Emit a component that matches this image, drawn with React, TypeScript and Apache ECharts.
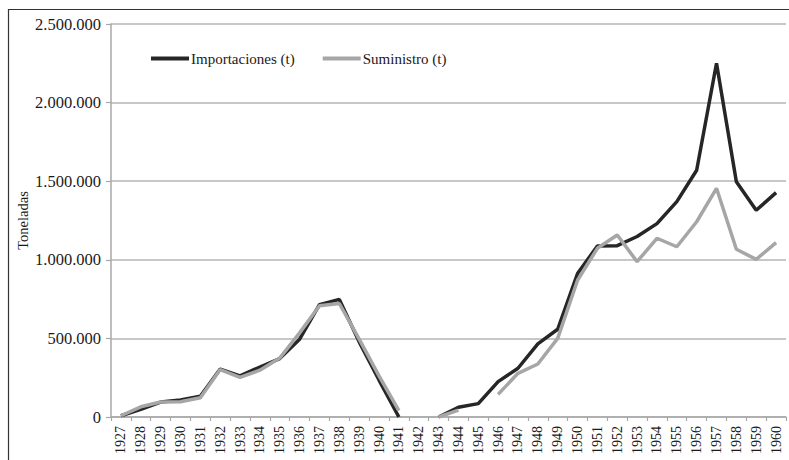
import React, { useEffect, useRef } from "react";
import * as echarts from "echarts";

const years = [
  "1927", "1928", "1929", "1930", "1931", "1932", "1933", "1934", "1935", "1936",
  "1937", "1938", "1939", "1940", "1941", "1942", "1943", "1944", "1945", "1946",
  "1947", "1948", "1949", "1950", "1951", "1952", "1953", "1954", "1955", "1956",
  "1957", "1958", "1959", "1960",
];

const importaciones: (number | null)[] = [
  8000, 48000, 95000, 108000, 132000, 305000, 262000, 318000, 372000, 495000,
  715000, 748000, 478000, 235000, 0, null, 0, 62000, 85000, 225000,
  310000, 465000, 558000, 912000, 1088000, 1090000, 1148000, 1230000, 1370000, 1570000,
  2250000, 1497000, 1315000, 1427000,
];

const suministro: (number | null)[] = [
  8000, 65000, 95000, 97000, 122000, 302000, 252000, 298000, 375000, 535000,
  708000, 722000, 495000, 262000, 40000, null, 0, 44000, null, 144000,
  278000, 337000, 500000, 870000, 1073000, 1158000, 988000, 1137000, 1083000, 1242000,
  1455000, 1067000, 1003000, 1109000,
];

const yTicks = [0, 500000, 1000000, 1500000, 2000000, 2500000];
const seriesNames = ["Importaciones (t)", "Suministro (t)"];

const fmt = (v: number) => String(v).replace(/\B(?=(\d{3})+(?!\d))/g, ".");

export default function App() {
  const ref = useRef<HTMLDivElement>(null);
  useEffect(() => {
    if (!ref.current) return;
    const chart = echarts.init(ref.current, undefined, { renderer: "svg" });
    const font = "Liberation Serif";
    chart.setOption({
      animation: false,
      backgroundColor: "#ffffff",
      textStyle: { fontFamily: font },
      graphic: [
        {
          type: "rect",
          shape: { x: 8.5, y: 9.5, width: 800, height: 500 },
          style: { fill: "none", stroke: "#333", lineWidth: 1.2 },
          silent: true,
        },
      ],
      legend: {
        left: 146,
        top: 46,
        icon: "rect",
        itemWidth: 38,
        itemHeight: 4,
        itemGap: 28,
        textStyle: { fontFamily: font, fontSize: 15, color: "#1a1a1a", padding: [0, 0, 0, -3] },
        data: seriesNames,
      },
      grid: { left: 111, right: 3, top: 24, bottom: 43, containLabel: false },
      xAxis: {
        type: "category",
        data: years,
        boundaryGap: true,
        axisLine: { lineStyle: { color: "#a8a8a8", width: 1.5 } },
        axisTick: { show: true, alignWithLabel: false, length: 4, lineStyle: { color: "#a8a8a8", width: 1.2 } },
        axisLabel: { rotate: 90, fontFamily: font, fontSize: 14, color: "#1a1a1a", margin: 9, interval: 0 },
      },
      yAxis: {
        type: "value",
        min: 0,
        max: 2500000,
        interval: 500000,
        name: "Toneladas",
        nameLocation: "middle",
        nameGap: 81,
        nameMoveOverlap: false,
        nameRotate: 90,
        nameTextStyle: { fontFamily: font, fontSize: 14.5, color: "#1a1a1a" },
        axisLine: { show: true, lineStyle: { color: "#a8a8a8", width: 1.5 } },
        axisTick: { show: true, length: 5, lineStyle: { color: "#a8a8a8", width: 1.2 } },
        splitLine: { show: true, lineStyle: { color: "#b4b4b4", width: 1.5 } },
        axisLabel: {
          fontFamily: font,
          fontSize: 16.5,
          color: "#1a1a1a",
          margin: 10,
          formatter: (v: number) => (yTicks.includes(v) ? fmt(v) : ""),
        },
      },
      series: [
        {
          name: seriesNames[0],
          type: "line",
          data: importaciones,
          symbol: "none",
          connectNulls: false,
          lineStyle: { color: "#262626", width: 3.5 },
          itemStyle: { color: "#262626" },
          z: 2,
        },
        {
          name: seriesNames[1],
          type: "line",
          data: suministro,
          symbol: "none",
          connectNulls: false,
          lineStyle: { color: "#a6a6a6", width: 3.5 },
          itemStyle: { color: "#a6a6a6" },
          z: 3,
        },
      ],
    });
    return () => chart.dispose();
  }, []);
  return (
    <div
      ref={ref}
      style={{ position: "fixed", left: 0, top: 0, width: 789, height: 460 }}
    />
  );
}
